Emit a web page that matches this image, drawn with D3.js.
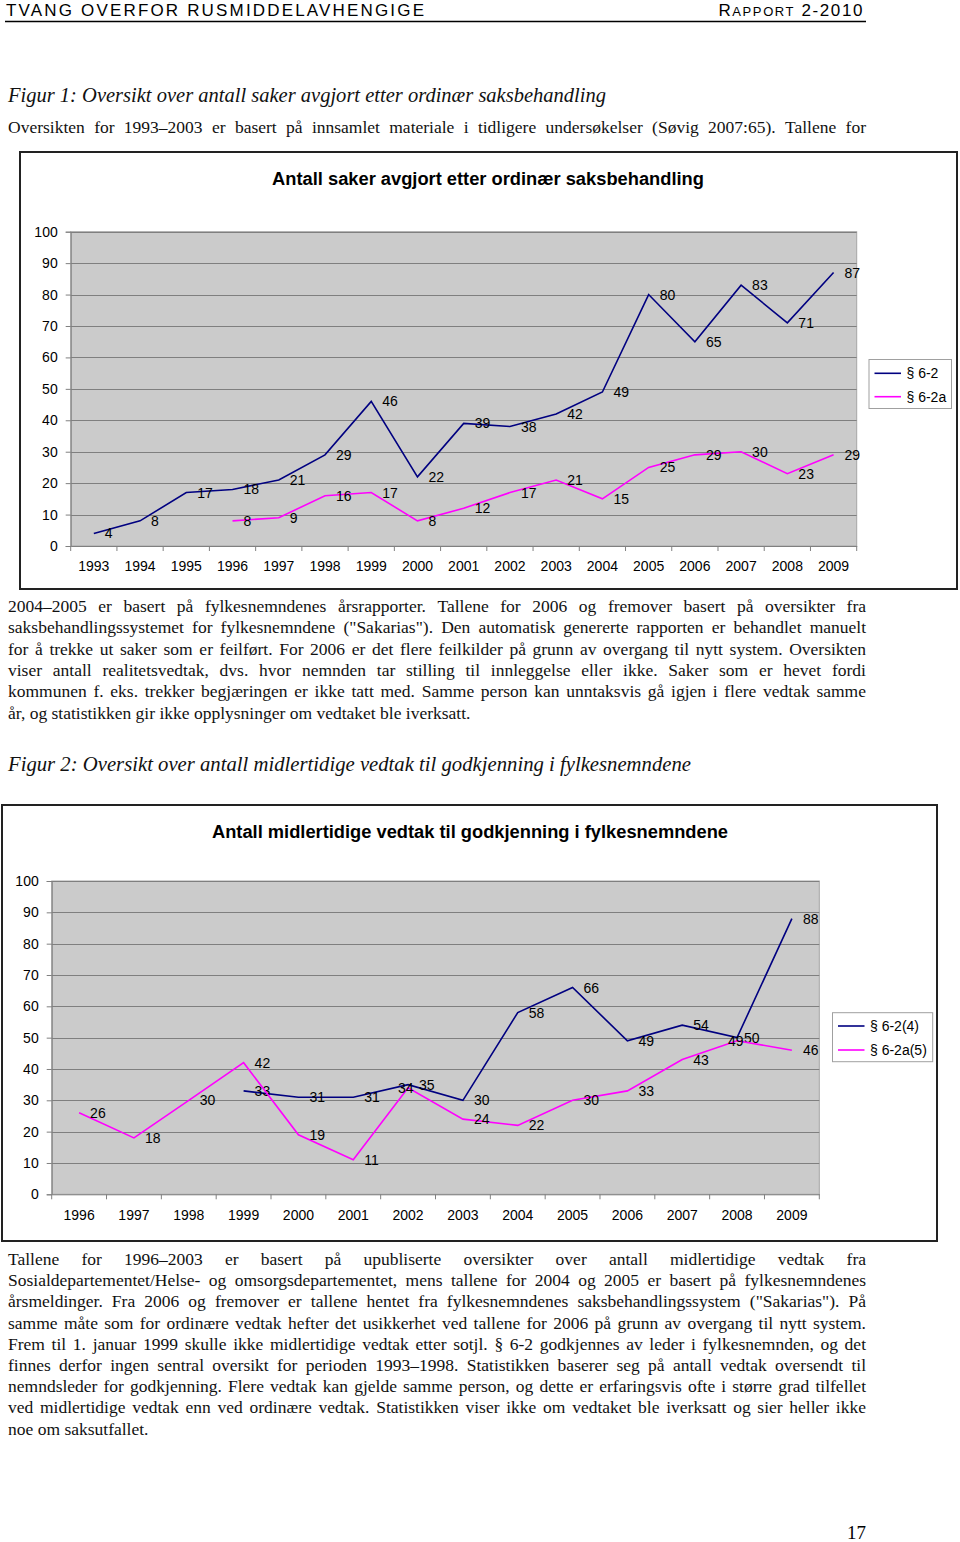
<!DOCTYPE html>
<html>
<head>
<meta charset="utf-8">
<script src="https://cdn.jsdelivr.net/npm/d3@7"></script>
<style>
  html, body { margin: 0; padding: 0; background: #fff; }
  svg { display: block; }
</style>
</head>
<body>
<script>
// ---------------- DATA ----------------
const years1 = ["1993","1994","1995","1996","1997","1998","1999","2000","2001","2002","2003","2004","2005","2006","2007","2008","2009"];
const s62_fig1 = [4, 8, 17, 18, 21, 29, 46, 22, 39, 38, 42, 49, 80, 65, 83, 71, 87];
const s62a_fig1 = [null, null, null, 8, 9, 16, 17, 8, 12, 17, 21, 15, 25, 29, 30, 23, 29];
const seriesNames1 = ["§ 6-2", "§ 6-2a"];

const years2 = ["1996","1997","1998","1999","2000","2001","2002","2003","2004","2005","2006","2007","2008","2009"];
const s624_fig2 = [null, null, null, 33, 31, 31, 35, 30, 58, 66, 49, 54, 50, 88];
const s62a5_fig2 = [26, 18, 30, 42, 19, 11, 34, 24, 22, 30, 33, 43, 49, 46];
const seriesNames2 = ["§ 6-2(4)", "§ 6-2a(5)"];

const yTicks = [0, 10, 20, 30, 40, 50, 60, 70, 80, 90, 100];

const title1 = "Antall saker avgjort etter ordinær saksbehandling";
const title2 = "Antall midlertidige vedtak til godkjenning i fylkesnemndene";

const headerLeft = "TVANG OVERFOR RUSMIDDELAVHENGIGE";
const caption1 = "Figur 1: Oversikt over antall saker avgjort etter ordinær saksbehandling";
const caption2 = "Figur 2: Oversikt over antall midlertidige vedtak til godkjenning i fylkesnemndene";
const introLine = "Oversikten for 1993–2003 er basert på innsamlet materiale i tidligere undersøkelser (Søvig 2007:65). Tallene for";
const para1 = [
  "2004–2005 er basert på fylkesnemndenes årsrapporter. Tallene for 2006 og fremover basert på oversikter fra",
  "saksbehandlingssystemet for fylkesnemndene (\"Sakarias\"). Den automatisk genererte rapporten er behandlet manuelt",
  "for å trekke ut saker som er feilført. For 2006 er det flere feilkilder på grunn av overgang til nytt system. Oversikten",
  "viser antall realitetsvedtak, dvs. hvor nemnden tar stilling til innleggelse eller ikke. Saker som er hevet fordi",
  "kommunen f. eks. trekker begjæringen er ikke tatt med. Samme person kan unntaksvis gå igjen i flere vedtak samme",
  "år, og statistikken gir ikke opplysninger om vedtaket ble iverksatt."
];
const para2 = [
  "Tallene for 1996–2003 er basert på upubliserte oversikter over antall midlertidige vedtak fra",
  "Sosialdepartementet/Helse- og omsorgsdepartementet, mens tallene for 2004 og 2005 er basert på fylkesnemndenes",
  "årsmeldinger. Fra 2006 og fremover er tallene hentet fra fylkesnemndenes saksbehandlingssystem (\"Sakarias\"). På",
  "samme måte som for ordinære vedtak hefter det usikkerhet ved tallene for 2006 på grunn av overgang til nytt system.",
  "Frem til 1. januar 1999 skulle ikke midlertidige vedtak etter sotjl. § 6-2 godkjennes av leder i fylkesnemnden, og det",
  "finnes derfor ingen sentral oversikt for perioden 1993–1998. Statistikken baserer seg på antall vedtak oversendt til",
  "nemndsleder for godkjenning. Flere vedtak kan gjelde samme person, og dette er erfaringsvis ofte i større grad tilfellet",
  "ved midlertidige vedtak enn ved ordinære vedtak. Statistikken viser ikke om vedtaket ble iverksatt og sier heller ikke",
  "noe om saksutfallet."
];
const pageNumber = "17";

// ---------------- PAGE ----------------
const svg = d3.select("body").append("svg")
  .attr("width", 960).attr("height", 1542)
  .attr("viewBox", "0 0 960 1542");

const SERIF = "'Liberation Serif', 'DejaVu Serif', serif";
const SANS = "'Liberation Sans', Arial, sans-serif";

// Header
svg.append("text")
  .attr("x", 6).attr("y", 16)
  .attr("font-family", SANS).attr("font-size", 17)
  .attr("textLength", 418).attr("lengthAdjust", "spacing")
  .text(headerLeft);
const hr = svg.append("text")
  .attr("x", 864).attr("y", 16).attr("text-anchor", "end")
  .attr("font-family", SANS).attr("letter-spacing", 1.6);
hr.append("tspan").attr("font-size", 17).text("R");
hr.append("tspan").attr("font-size", 13).text("APPORT");
hr.append("tspan").attr("font-size", 17).text(" 2-2010");
svg.append("line").attr("x1", 5).attr("x2", 866).attr("y1", 21.5).attr("y2", 21.5)
  .attr("stroke", "#000").attr("stroke-width", 1.6);

// Captions
function caption(txt, y, w) {
  svg.append("text").attr("x", 8).attr("y", y)
    .attr("font-family", SERIF).attr("font-style", "italic").attr("font-size", 20)
    .attr("textLength", w).attr("lengthAdjust", "spacingAndGlyphs")
    .attr("fill", "#111")
    .text(txt);
}
caption(caption1, 102, 598);
caption(caption2, 771, 683);

// Justified paragraph
function paragraph(lines, x, y0, lh, width, justifyLast) {
  const g = svg.append("g").attr("font-family", SERIF).attr("font-size", 17.5).attr("fill", "#111");
  const probe = g.append("text").attr("x", -1000).attr("y", -1000);
  lines.forEach((str, li) => {
    const y = y0 + li * lh;
    const last = (li === lines.length - 1) && !justifyLast;
    const t = g.append("text").attr("y", y);
    if (last) { t.attr("x", x).text(str); return; }
    const words = str.split(" ");
    const widths = words.map(w => { probe.text(w); return probe.node().getComputedTextLength(); });
    const sum = d3.sum(widths);
    let gap = (width - sum) / (words.length - 1);
    let factor = 1;
    const minGap = 3;
    if (gap < minGap) { gap = minGap; factor = (width - minGap * (words.length - 1)) / sum; }
    let cx = x;
    words.forEach((w, i) => {
      const ts = t.append("tspan").attr("x", cx).text(w + (i < words.length - 1 ? " " : ""));
      if (factor < 1) {
        ts.text(w).attr("textLength", widths[i] * factor).attr("lengthAdjust", "spacingAndGlyphs");
      }
      cx += widths[i] * factor + gap;
    });
  });
  probe.remove();
}
paragraph([introLine], 8, 133, 21, 858, true);
paragraph(para1, 8, 612, 21.3, 858, false);
paragraph(para2, 8, 1265, 21.2, 858, false);

svg.append("text").attr("x", 866).attr("y", 1539).attr("text-anchor", "end")
  .attr("font-family", SERIF).attr("font-size", 19).text(pageNumber);

// ---------------- CHARTS ----------------
function drawChart(cfg) {
  const g = svg.append("g");
  // outer frame
  g.append("rect")
    .attr("x", cfg.box[0]).attr("y", cfg.box[1])
    .attr("width", cfg.box[2] - cfg.box[0]).attr("height", cfg.box[3] - cfg.box[1])
    .attr("fill", "#fff").attr("stroke", "#222").attr("stroke-width", 2);

  // title
  g.append("text")
    .attr("x", cfg.titleX).attr("y", cfg.titleY).attr("text-anchor", "middle")
    .attr("font-family", SANS).attr("font-weight", "bold").attr("font-size", cfg.titleSize)
    .attr("fill", "#000").text(cfg.title);

  const [L, T, R, B] = cfg.plot;
  const x = d3.scaleBand().domain(cfg.categories).range([L, R]).paddingInner(0).paddingOuter(0);
  const y = d3.scaleLinear().domain([0, 100]).range([B, T]);

  // plot area
  g.append("rect").attr("x", L).attr("y", T).attr("width", R - L).attr("height", B - T)
    .attr("fill", "#CBCBCB").attr("stroke", "#A6A6A6").attr("stroke-width", 1);

  // gridlines
  g.append("g").selectAll("line").data(cfg.yTicks.filter(d => d > 0)).join("line")
    .attr("x1", L).attr("x2", R)
    .attr("y1", d => Math.round(y(d)) + 0.5).attr("y2", d => Math.round(y(d)) + 0.5)
    .attr("stroke", "#7F7F7F").attr("stroke-width", 1);

  // y axis
  const ya = g.append("g").attr("transform", `translate(${L},0)`)
    .call(d3.axisLeft(y).tickValues(cfg.yTicks).tickSize(5).tickPadding(cfg.yPad).tickFormat(d3.format("d")));
  ya.select(".domain").attr("stroke", "#808080");
  ya.selectAll(".tick line").attr("stroke", "#808080");
  ya.selectAll("text").attr("font-family", SANS).attr("font-size", 14).attr("fill", "#000");

  // x axis (labels) + boundary ticks
  const xa = g.append("g").attr("transform", `translate(0,${B})`)
    .call(d3.axisBottom(x).tickSize(0).tickPadding(cfg.xPad));
  xa.select(".domain").attr("stroke", "#808080");
  xa.selectAll("text").attr("font-family", SANS).attr("font-size", 14).attr("fill", "#000");
  const bounds = cfg.categories.map(c => x(c)).concat([x(cfg.categories[cfg.categories.length - 1]) + x.step()]);
  g.append("g").selectAll("line").data(bounds).join("line")
    .attr("x1", d => d).attr("x2", d => d).attr("y1", B).attr("y2", B + 5)
    .attr("stroke", "#808080");

  // series
  cfg.series.forEach((s, si) => {
    const pts = s.values.map((v, i) => ({ c: cfg.categories[i], v, i })).filter(p => p.v !== null);
    const line = d3.line().x(p => x(p.c) + x.bandwidth() / 2).y(p => y(p.v));
    g.append("path").datum(pts).attr("d", line)
      .attr("fill", "none").attr("stroke", s.color).attr("stroke-width", 1.6)
      .attr("stroke-linejoin", "miter");
    g.append("g").selectAll("text").data(pts).join("text")
      .attr("x", p => {
        const ov = (cfg.labelOffsets || []).find(o => o.s === si && o.i === p.i);
        return x(p.c) + x.bandwidth() / 2 + (ov ? ov.dx : 11);
      })
      .attr("y", p => y(p.v))
      .attr("dy", "0.36em")
      .attr("font-family", SANS).attr("font-size", 14).attr("fill", "#000")
      .text(p => p.v);
  });

  // legend
  const [lx0, ly0, lx1, ly1] = cfg.legendBox;
  g.append("rect").attr("x", lx0).attr("y", ly0).attr("width", lx1 - lx0).attr("height", ly1 - ly0)
    .attr("fill", "#fff").attr("stroke", "#A0A0A0");
  cfg.series.forEach((s, si) => {
    const ly = cfg.legendRows[si];
    g.append("line").attr("x1", lx0 + 5.5).attr("x2", lx0 + 32).attr("y1", ly).attr("y2", ly)
      .attr("stroke", s.color).attr("stroke-width", 1.6);
    g.append("text").attr("x", lx0 + 37.5).attr("y", ly).attr("dy", "0.36em")
      .attr("font-family", SANS).attr("font-size", 14).attr("fill", "#000").text(s.name);
  });
}

drawChart({
  box: [20, 152, 957, 589],
  title: title1, titleX: 488, titleY: 184.5, titleSize: 18.3,
  plot: [70.7, 231.7, 856.7, 546],
  categories: years1,
  yTicks: yTicks,
  yPad: 8, xPad: 15,
  series: [
    { name: seriesNames1[0], values: s62_fig1, color: "#000080" },
    { name: seriesNames1[1], values: s62a_fig1, color: "#FF00FF" }
  ],
  legendBox: [869, 359.5, 951.5, 408.5],
  legendRows: [373.3, 396.7]
});

drawChart({
  box: [2, 805, 937, 1241],
  title: title2, titleX: 470, titleY: 837.5, titleSize: 18.3,
  plot: [51.7, 881, 819.3, 1194.3],
  categories: years2,
  yTicks: yTicks,
  yPad: 8, xPad: 16,
  series: [
    { name: seriesNames2[0], values: s624_fig2, color: "#000080" },
    { name: seriesNames2[1], values: s62a5_fig2, color: "#FF00FF" }
  ],
  labelOffsets: [
    { s: 1, i: 6, dx: -10 },
    { s: 1, i: 12, dx: -9 },
    { s: 0, i: 12, dx: 7 }
  ],
  legendBox: [832.5, 1012.7, 932.7, 1061.7],
  legendRows: [1026, 1050]
});
</script>
</body>
</html>
